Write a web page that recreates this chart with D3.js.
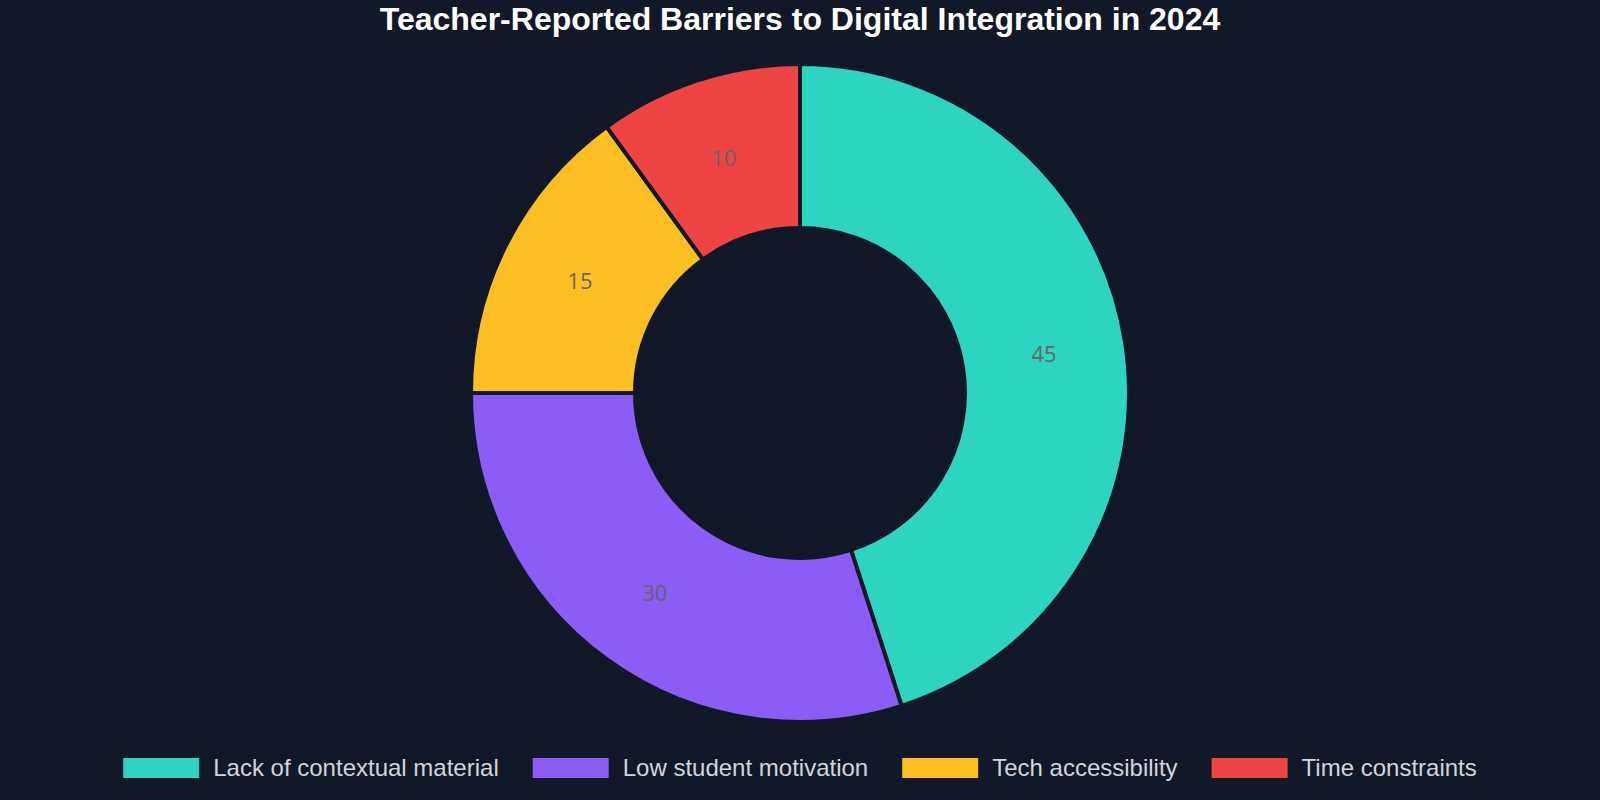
<!DOCTYPE html>
<html>
<head>
<meta charset="utf-8">
<script src="https://cdn.jsdelivr.net/npm/d3@7"></script>
<style>
  html, body { margin: 0; padding: 0; background: #111827; }
</style>
</head>
<body>
<svg id="chart"></svg>
<script>
const categories = ["Lack of contextual material", "Low student motivation", "Tech accessibility", "Time constraints"];
const values = [45, 30, 15, 10];
const colors = ["#2dd4bf", "#8b5cf6", "#fbbf24", "#ef4444"];
const title = "Teacher-Reported Barriers to Digital Integration in 2024";

const width = 1600, height = 800;
const cx = 800, cy = 393;
const outerR = 329, innerR = 165;

const svg = d3.select("#chart")
  .attr("width", width)
  .attr("height", height);

svg.append("rect")
  .attr("width", width)
  .attr("height", height)
  .attr("fill", "#111827");

svg.append("text")
  .attr("x", cx)
  .attr("y", 30)
  .attr("text-anchor", "middle")
  .attr("fill", "#ffffff")
  .style("font-family", "'Liberation Sans', Arial, sans-serif")
  .style("font-weight", "bold")
  .style("font-size", "32px")
  .text(title);

const pie = d3.pie().sort(null).value(d => d);
const arcs = pie(values);
const arc = d3.arc().innerRadius(innerR).outerRadius(outerR);

const g = svg.append("g").attr("transform", `translate(${cx},${cy})`);

g.selectAll("path")
  .data(arcs)
  .enter().append("path")
  .attr("d", arc)
  .attr("fill", (d, i) => colors[i])
  .attr("stroke", "#111827")
  .attr("stroke-width", 4);

g.selectAll("text.val")
  .data(arcs)
  .enter().append("text")
  .attr("class", "val")
  .attr("transform", d => `translate(${arc.centroid(d)})`)
  .attr("text-anchor", "middle")
  .attr("dy", "0.35em")
  .attr("fill", "#666666")
  .style("font-family", "'Open Sans', 'Noto Sans', sans-serif")
  .style("font-size", "22px")
  .text(d => d.data);

// legend, centred under the donut
const legend = svg.append("g");
const swW = 76, swH = 20, txtGap = 14, itemGap = 34;
let xpos = 0;
categories.forEach((c, i) => {
  const it = legend.append("g");
  it.append("rect")
    .attr("width", swW)
    .attr("height", swH)
    .attr("y", -swH / 2)
    .attr("fill", colors[i]);
  const t = it.append("text")
    .attr("x", swW + txtGap)
    .attr("dy", "0.35em")
    .attr("fill", "#d1d5db")
    .style("font-family", "'Liberation Sans', Arial, sans-serif")
    .style("font-size", "24px")
    .text(c);
  it.attr("transform", `translate(${xpos},0)`);
  xpos += swW + txtGap + t.node().getComputedTextLength() + itemGap;
});
const total = xpos - itemGap;
legend.attr("transform", `translate(${cx - total / 2},768)`);
</script>
</body>
</html>
